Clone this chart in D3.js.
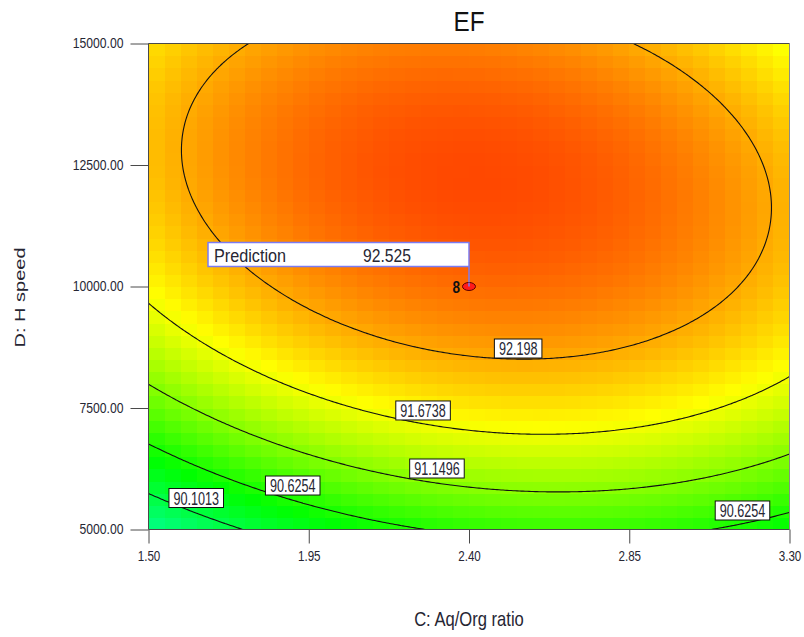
<!DOCTYPE html>
<html><head><meta charset="utf-8">
<script src="https://cdn.jsdelivr.net/npm/d3@7"></script>
<style>
body{margin:0;background:#fff;}
svg{display:block;font-family:"Liberation Sans",Arial,sans-serif;}
</style>
</head><body>
<svg id="chart" width="804" height="637"></svg>
<script>
// ---------------- data ----------------
const chartTitle = "EF";
const xAxisTitle = "C: Aq/Org ratio";
const yAxisTitle = "D: H speed";
const xDomain = [1.5, 3.3];
const yDomain = [5000, 15000];
const xTicks = [1.50, 1.95, 2.40, 2.85, 3.30];
const yTicks = [5000, 7500, 10000, 12500, 15000];
// quadratic response-surface model in coded units (C, D in -1..1)
const coefTerms  = ["Intercept", "C", "D", "CD", "C^2", "D^2"];
const coefValues = [92.525, 0.14, 0.865, -0.25, -0.63, -0.97];
const contourLevels = [90.1013, 90.6254, 91.1496, 91.6738, 92.198];
// contour labels: level and where the label sits (C, D)
const labelLevels = [90.1013, 90.6254, 91.1496, 91.6738, 92.198, 90.6254];
const labelC = [1.634, 1.905, 2.31, 2.271, 2.538, 3.168];
const labelD = [5648, 5905, 6255, 7449, 8724, 5391];
// prediction flag
const predC = 2.40, predD = 10000, predValue = 92.525, predCount = "8";
// colour ramp
const colorStopValues = [87.5, 89.0, 90.5, 91.75, 93.1];
const colorStopColors = ["#0000ff", "#00ffff", "#00ff00", "#ffff00", "#ff0000"];

// ---------------- model ----------------
const coef = Object.fromEntries(coefTerms.map((t, i) => [t, coefValues[i]]));
const cMid = (xDomain[0] + xDomain[1]) / 2, cHalf = (xDomain[1] - xDomain[0]) / 2;
const dMid = (yDomain[0] + yDomain[1]) / 2, dHalf = (yDomain[1] - yDomain[0]) / 2;
function model(C, D) {
  const a = (C - cMid) / cHalf, b = (D - dMid) / dHalf;
  return coef["Intercept"] + coef["C"] * a + coef["D"] * b + coef["CD"] * a * b +
         coef["C^2"] * a * a + coef["D^2"] * b * b;
}

// ---------------- layout ----------------
const svg = d3.select("#chart");
const x = d3.scaleLinear().domain(xDomain).range([148.5, 789.5]);
const y = d3.scaleLinear().domain(yDomain).range([529.5, 43.5]);
const color = d3.scaleLinear().domain(colorStopValues).range(colorStopColors).clamp(true);
const textColor = "#262633";
const axisColor = "#4a4a4a";

function squeeze(sel, f) {
  sel.each(function () {
    const L = this.getComputedTextLength();
    this.setAttribute("textLength", (L * f).toFixed(2));
    this.setAttribute("lengthAdjust", "spacingAndGlyphs");
  });
}

svg.append("defs").append("clipPath").attr("id", "plotclip")
  .append("rect").attr("x", x(xDomain[0])).attr("y", y(yDomain[1]))
  .attr("width", x(xDomain[1]) - x(xDomain[0])).attr("height", y(yDomain[0]) - y(yDomain[1]));

// ---------------- heat map cells ----------------
const nCols = 40, nRows = 40;
const cells = [];
for (let i = 0; i < nCols; i++) {
  for (let j = 0; j < nRows; j++) {
    const c0 = xDomain[0] + i * (xDomain[1] - xDomain[0]) / nCols;
    const c1 = xDomain[0] + (i + 1) * (xDomain[1] - xDomain[0]) / nCols;
    const d0 = yDomain[0] + j * (yDomain[1] - yDomain[0]) / nRows;
    const d1 = yDomain[0] + (j + 1) * (yDomain[1] - yDomain[0]) / nRows;
    cells.push({c0, c1, d0, d1, v: model((c0 + c1) / 2, (d0 + d1) / 2)});
  }
}
const gPlot = svg.append("g").attr("clip-path", "url(#plotclip)");
gPlot.selectAll("rect.cell").data(cells).join("rect").attr("class", "cell")
  .attr("x", d => x(d.c0)).attr("y", d => y(d.d1))
  .attr("width", d => x(d.c1) - x(d.c0) + 0.6)
  .attr("height", d => y(d.d0) - y(d.d1) + 0.6)
  .attr("fill", d => color(d.v))
  .attr("shape-rendering", "crispEdges");

// ---------------- contour lines ----------------
const gn = 321, gm = 241;
const gridVals = new Array(gn * gm);
for (let r = 0; r < gm; r++) {
  const D = yDomain[1] - r * (yDomain[1] - yDomain[0]) / (gm - 1);
  for (let c = 0; c < gn; c++) {
    const C = xDomain[0] + c * (xDomain[1] - xDomain[0]) / (gn - 1);
    gridVals[r * gn + c] = model(C, D);
  }
}
const contours = d3.contours().size([gn, gm]).thresholds(contourLevels)(gridVals);
function gx(cx) { return x(xDomain[0] + (cx - 0.5) * (xDomain[1] - xDomain[0]) / (gn - 1)); }
function gy(cy) { return y(yDomain[1] - (cy - 0.5) * (yDomain[1] - yDomain[0]) / (gm - 1)); }
function contourPath(geom) {
  let s = "";
  geom.coordinates.forEach(poly => poly.forEach(ring => {
    s += "M" + ring.map(p => gx(p[0]).toFixed(2) + "," + gy(p[1]).toFixed(2)).join("L") + "Z";
  }));
  return s;
}
gPlot.selectAll("path.iso").data(contours).join("path").attr("class", "iso")
  .attr("d", contourPath).attr("fill", "none")
  .attr("stroke", "#111").attr("stroke-width", 1.1);

// ---------------- axes ----------------
const gAxes = svg.append("g");
gAxes.append("line").attr("x1", x(xDomain[0])).attr("x2", x(xDomain[0]))
  .attr("y1", y(yDomain[1])).attr("y2", y(yDomain[0])).attr("stroke", axisColor);
gAxes.append("line").attr("x1", x(xDomain[0])).attr("x2", x(xDomain[1]))
  .attr("y1", y(yDomain[0])).attr("y2", y(yDomain[0])).attr("stroke", axisColor);
gAxes.append("line").attr("x1", x(xDomain[0])).attr("x2", x(xDomain[1]))
  .attr("y1", y(yDomain[1])).attr("y2", y(yDomain[1])).attr("stroke", axisColor);
gAxes.append("line").attr("x1", x(xDomain[1])).attr("x2", x(xDomain[1]))
  .attr("y1", y(yDomain[1])).attr("y2", y(yDomain[0])).attr("stroke", "#8a8a8a");

const yAxis = svg.append("g").attr("transform", `translate(${x(xDomain[0])},0)`)
  .call(d3.axisLeft(y).tickValues(yTicks).tickFormat(d3.format(".2f")).tickSize(18).tickPadding(7));
yAxis.select(".domain").remove();
yAxis.selectAll("line").attr("stroke", axisColor);
yAxis.selectAll("text").attr("font-size", 14).attr("fill", textColor)
  .attr("font-family", "'Liberation Sans',Arial,sans-serif").call(squeeze, 0.87);

const xAxis = svg.append("g").attr("transform", `translate(0,${y(yDomain[0])})`)
  .call(d3.axisBottom(x).tickValues(xTicks).tickFormat(d3.format(".2f")).tickSize(14).tickPadding(8));
xAxis.select(".domain").remove();
xAxis.selectAll("line").attr("stroke", axisColor);
xAxis.selectAll("text").attr("font-size", 14).attr("fill", textColor)
  .attr("font-family", "'Liberation Sans',Arial,sans-serif").call(squeeze, 0.83);

// titles
svg.append("text").attr("x", x(cMid)).attr("y", 31).attr("text-anchor", "middle")
  .attr("font-size", 27).attr("fill", "#111").text(chartTitle).call(squeeze, 0.9);
svg.append("text").attr("x", x(cMid)).attr("y", 626).attr("text-anchor", "middle")
  .attr("font-size", 21).attr("fill", textColor).text(xAxisTitle).call(squeeze, 0.79);
svg.append("text").attr("transform", `translate(25,${y(dMid) + 11}) rotate(-90) scale(1,0.78)`)
  .attr("text-anchor", "middle").attr("font-size", 18).attr("fill", textColor)
  .text(yAxisTitle).attr("textLength", 100).attr("lengthAdjust", "spacingAndGlyphs");

// ---------------- contour labels ----------------
const labels = labelLevels.map((lv, i) => ({lv, C: labelC[i], D: labelD[i]}));
const gLab = svg.append("g").selectAll("g").data(labels).join("g")
  .attr("transform", d => `translate(${x(d.C)},${y(d.D)})`);
gLab.append("rect");
gLab.append("text").attr("text-anchor", "middle").attr("y", 6.5)
  .attr("font-size", 18).attr("fill", textColor).text(d => d.lv).call(squeeze, 0.7);
gLab.each(function () {
  const g = d3.select(this);
  const w = +g.select("text").attr("textLength") + 9;
  g.select("rect").attr("x", -w / 2).attr("y", -9.5).attr("width", w).attr("height", 19)
    .attr("fill", "#fff").attr("stroke", "#111").attr("stroke-width", 1);
});

// ---------------- prediction flag ----------------
const px = x(predC), py = y(predD);
const gPred = svg.append("g");
gPred.append("rect").attr("x", px - 261).attr("y", py - 44).attr("width", 261).attr("height", 24)
  .attr("fill", "#fff").attr("stroke", "#7b7bf2").attr("stroke-width", 1.5);
gPred.append("line").attr("x1", px).attr("x2", px).attr("y1", py - 20).attr("y2", py)
  .attr("stroke", "#7b7bf2").attr("stroke-width", 1.5);
gPred.append("text").attr("x", px - 255).attr("y", py - 25).attr("font-size", 18)
  .attr("fill", textColor).text("Prediction").call(squeeze, 0.9);
gPred.append("text").attr("x", px - 106).attr("y", py - 25).attr("font-size", 18)
  .attr("fill", textColor).text(predValue).call(squeeze, 0.87);
gPred.append("ellipse").attr("cx", px).attr("cy", py).attr("rx", 6.5).attr("ry", 4)
  .attr("fill", "#ff1a1a").attr("stroke", "#5a0000").attr("stroke-width", 1);
gPred.append("line").attr("x1", px).attr("x2", px).attr("y1", py - 4).attr("y2", py)
  .attr("stroke", "#7b7bf2").attr("stroke-width", 1.5);
gPred.append("text").attr("x", px - 9).attr("y", py + 6).attr("text-anchor", "end")
  .attr("font-size", 16).attr("font-weight", "bold").attr("fill", "#111").text(predCount).call(squeeze, 0.85);
</script>
</body></html>
